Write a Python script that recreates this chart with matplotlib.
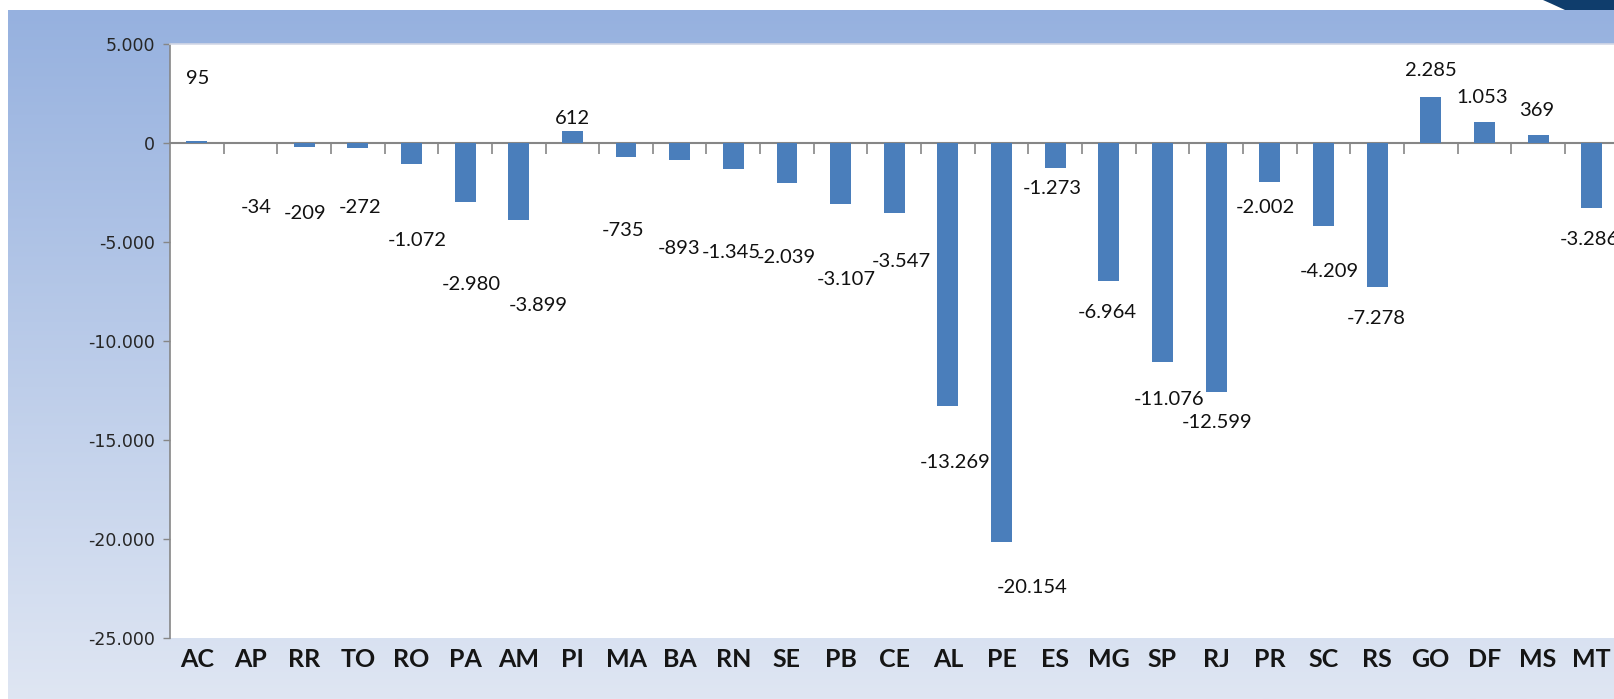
import numpy as np
import matplotlib
matplotlib.use("Agg")
import matplotlib.pyplot as plt
from matplotlib.patches import Polygon
from matplotlib.ticker import FuncFormatter, FixedLocator

# ---- data ----
states = ["AC", "AP", "RR", "TO", "RO", "PA", "AM", "PI", "MA", "BA", "RN", "SE", "PB", "CE",
          "AL", "PE", "ES", "MG", "SP", "RJ", "PR", "SC", "RS", "GO", "DF", "MS", "MT"]
values = [95, -34, -209, -272, -1072, -2980, -3899, 612, -735, -893, -1345, -2039, -3107, -3547,
          -13269, -20154, -1273, -6964, -11076, -12599, -2002, -4209, -7278, 2285, 1053, 369, -3286]
y_ticks = [5000, 0, -5000, -10000, -15000, -20000, -25000]

# ---- label placement (positions only) ----
label_dx = [0.02, 0.10, 0.02, 0.04, 0.10, 0.11, 0.36, 0.01, -0.06, -0.01, -0.04, -0.02, 0.10, 0.14,
            0.13, 0.57, -0.06, -0.02, 0.12, 0.02, -0.09, 0.10, -0.02, 0.00, -0.05, -0.02, -0.05]
label_y = [3214, -3248, -3547, -3248, -4959, -7179, -8238, 1246, -4455, -5313, -5565, -5817, -6927,
           -6019, -16159, -22466, -2336, -8592, -12981, -14141, -3248, -6523, -8845, 3668, 2305,
           1600, -4909]


def br(v):
    return f"{v:,.0f}".replace(",", ".")


W, H = 1615, 699
fig = plt.figure(figsize=(W / 100, H / 100), dpi=100, facecolor="white")

# background gradient panel
bg = fig.add_axes([8 / W, 0, 1 - 8 / W, (H - 10) / H], zorder=0)
top = np.array([150, 177, 223]) / 255
bot = np.array([223, 230, 243]) / 255
t = np.linspace(0, 1, 256)[:, None]
grad = (top[None, :] * (1 - t) + bot[None, :] * t)[:, None, :]
bg.imshow(grad, aspect="auto", extent=[0, 1, 0, 1], interpolation="bilinear")
bg.set_axis_off()

# top-right navy decoration
def fx(px):
    return px / W

def fy(py):
    return 1 - py / H

deco = Polygon([(fx(1543), fy(0)), (fx(1552), fy(4)), (fx(1565), fy(10)), (fx(1615), fy(10)),
                (fx(1615), fy(0))], closed=True, transform=fig.transFigure,
               facecolor="#0f3d6c", edgecolor="none", zorder=5)
fig.patches.append(deco)

# main axes
left_px, right_px = 170, 170 + 27 * 53.65
top_px, bot_px = 43.6, 638.2
ax = fig.add_axes([left_px / W, 1 - bot_px / H, (right_px - left_px) / W, (bot_px - top_px) / H],
                  zorder=2)
ax.set_facecolor("white")

x = np.arange(len(states))
ax.bar(x, values, width=0.39, color="#4a7ebb", zorder=3)

ax.set_xlim(-0.5, len(states) - 0.5)
ax.set_ylim(-25000, 5000)

# y axis
ax.yaxis.set_major_locator(FixedLocator(y_ticks))
ax.yaxis.set_major_formatter(FuncFormatter(lambda v, p: br(v)))
ax.tick_params(axis="y", direction="out", length=5, width=1, color="#868686",
               labelsize=12.5, labelcolor="#262626", pad=6)
for lab in ax.get_yticklabels():
    lab.set_family("DejaVu Sans")

# spines
ax.spines["right"].set_visible(False)
ax.spines["top"].set_color("#d3d8e6")
ax.spines["top"].set_linewidth(1.2)
ax.spines["left"].set_color("#868686")
ax.spines["left"].set_linewidth(1.2)
ax.spines["bottom"].set_position(("data", 0))
ax.spines["bottom"].set_color("#868686")
ax.spines["bottom"].set_linewidth(1.5)
ax.spines["bottom"].set_zorder(2)

# category boundary ticks on the zero line
ax.xaxis.set_major_locator(FixedLocator(x[:-1] + 0.5))
ax.tick_params(axis="x", direction="out", length=8, width=1.2, color="#868686",
               labelbottom=False)

# category labels along the bottom
sec = ax.secondary_xaxis("bottom")
sec.set_xticks(x)
sec.set_xticklabels(states)
sec.tick_params(axis="x", length=0, pad=7, labelsize=18, labelcolor="#151515")
for lab in sec.get_xticklabels():
    lab.set_family(["Lato", "DejaVu Sans"])
    lab.set_fontweight("bold")
sec.spines["bottom"].set_visible(False)

# value labels
for i, v in enumerate(values):
    ax.text(x[i] + label_dx[i], label_y[i], br(v), ha="center", va="center",
            fontsize=14.5, color="#111111", family=["Lato", "DejaVu Sans"], zorder=4,
            clip_on=False)

fig.savefig("out.png", dpi=100, facecolor="white")
